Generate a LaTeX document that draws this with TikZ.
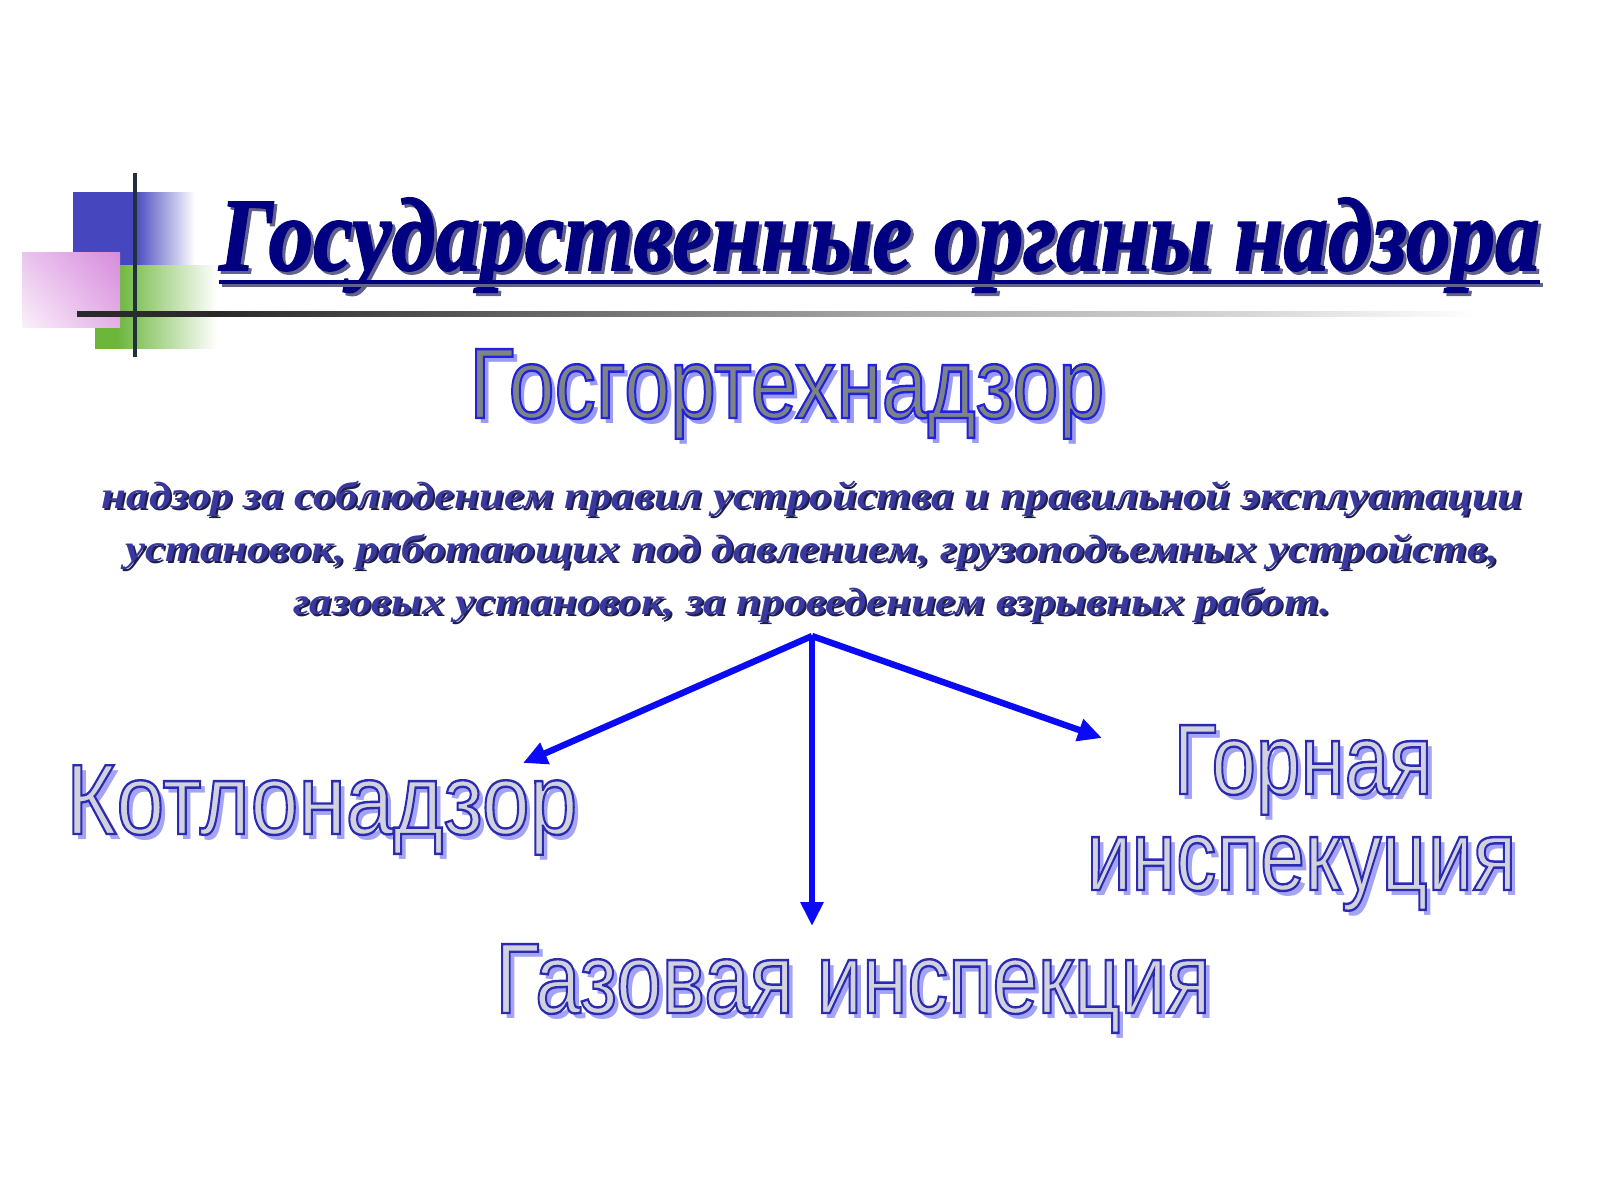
\documentclass[tikz,border=0pt]{standalone}
\usepackage{fontspec}
\setmainfont{Liberation Serif}
\newfontfamily\arialf{Liberation Sans}
\usetikzlibrary{arrows.meta,shadings}
\definecolor{navyt}{HTML}{000080}
\definecolor{navysh}{HTML}{62628A}
\definecolor{bodyc}{HTML}{38389E}
\definecolor{bodysh}{HTML}{1E1E46}
\definecolor{washad}{HTML}{A4A4F2}
\definecolor{gossh}{HTML}{9A9AF0}
\definecolor{gosfill}{HTML}{7E8484}
\definecolor{wafill}{HTML}{D2D2DE}
\definecolor{arrblue}{HTML}{0A0AF5}
\definecolor{decblue}{HTML}{4646BE}
\definecolor{decgreen}{HTML}{6CB63C}
\definecolor{decline}{HTML}{22303C}
\definecolor{pinkUL}{HTML}{EAC4EE}
\definecolor{pinkUR}{HTML}{D68CDC}
\definecolor{pinkLR}{HTML}{E4B0E6}
\definecolor{pinkLL}{HTML}{FAF0FA}
\definecolor{lnA}{HTML}{2A2A2A}
\definecolor{lnB}{HTML}{A8A8A8}
\definecolor{lnC}{HTML}{D8D8D8}
\pgfdeclarehorizontalshading{blueshade}{100bp}{color(0bp)=(decblue); color(25bp)=(decblue); color(50bp)=(decblue); color(75bp)=(white); color(100bp)=(white)}
\pgfdeclarehorizontalshading{greenshade}{100bp}{color(0bp)=(decgreen); color(25bp)=(decgreen); color(34bp)=(decgreen); color(75bp)=(white); color(100bp)=(white)}
\pgfdeclarehorizontalshading{lineshade}{100bp}{color(0bp)=(lnA); color(25bp)=(lnA); color(30bp)=(lnA); color(54bp)=(lnB); color(67bp)=(lnC); color(75bp)=(white); color(100bp)=(white)}
% outlined word-art text: fill colour, stroke rgb, width, text
\newcommand\outl[4]{\resizebox{#3}{\height}{\arialf\fontsize{50}{60}\selectfont\color{#1}\special{pdf:literal direct 2 Tr 1.2 w #2 RG}#4\special{pdf:literal direct 0 Tr}}}
\newcommand\shadwa[3]{\resizebox{#2}{\height}{\arialf\fontsize{50}{60}\selectfont\color{#1}#3}}
\newcommand\titletext{\fontsize{52}{60}\selectfont\bfseries\itshape Государственные органы надзора}
\newcommand\heavy[2]{\special{pdf:literal direct 2 Tr 0.9 w #1 RG}#2\special{pdf:literal direct 0 Tr}}
\begin{document}
\begin{tikzpicture}[x=0.5pt,y=-0.5pt,
  wa/.style={inner sep=0pt, anchor=base west},
  body/.style={inner sep=0pt, anchor=base, font=\fontsize{19}{23}\selectfont\bfseries\itshape},
  arr/.style={draw=arrblue, line width=3.2pt, -{Triangle[length=12pt,width=11pt]}}]
\useasboundingbox (0,0) rectangle (1600,1200);
\fill[white] (0,0) rectangle (1600,1200);
% decoration
\shade[shading=blueshade] (73,192) rectangle (195,267);
\shade[shading=greenshade] (95,265) rectangle (217,348);
\shade[upper left=pinkUL, upper right=pinkUR, lower right=pinkLR, lower left=pinkLL] (22,252) rectangle (120,327);
\shade[shading=lineshade] (77,311.5) rectangle (1480,316.5);
\fill[decline] (133,173) rectangle (137,357);
% title
\node[wa, text=navysh] (titlesh) at (222,273) {\resizebox{660pt}{\height}{\heavy{0.38 0.38 0.54}{\titletext}}};
\node[wa, text=navyt] (title) at (219,270) {\resizebox{660pt}{\height}{\heavy{0 0 0.5}{\titletext}}};
\draw[navysh, line width=2pt] ([xshift=1.5pt,yshift=-7.5pt]title.base west) -- ([xshift=1.5pt,yshift=-7.5pt]title.base east);
\draw[navyt, line width=2pt] ([yshift=-6pt]title.base west) -- ([yshift=-6pt]title.base east);
% Gosgortekhnadzor
\node[wa] (gossh) at (474,423) {\shadwa{gossh}{317.5pt}{Госгортехнадзор}};
\node[wa] (gos) at (469,418) {\outl{gosfill}{0.13 0.13 0.87}{317.5pt}{Госгортехнадзор}};
% body text
\node[body, text=bodysh] (b1s) at (814,510) {\resizebox{710pt}{\height}{надзор за соблюдением правил устройства и правильной эксплуатации}};
\node[body, text=bodyc] (b1) at (812,508) {\resizebox{710pt}{\height}{надзор за соблюдением правил устройства и правильной эксплуатации}};
\node[body, text=bodysh] (b2s) at (814,563) {\resizebox{686.5pt}{\height}{установок, работающих под давлением, грузоподъемных устройств,}};
\node[body, text=bodyc] (b2) at (812,561) {\resizebox{686.5pt}{\height}{установок, работающих под давлением, грузоподъемных устройств,}};
\node[body, text=bodysh] (b3s) at (814,616) {\resizebox{518.5pt}{\height}{газовых установок, за проведением взрывных работ.}};
\node[body, text=bodyc] (b3) at (812,614) {\resizebox{518.5pt}{\height}{газовых установок, за проведением взрывных работ.}};
% word-art targets
\node[wa] (kotsh) at (71,839) {\shadwa{washad}{255.5pt}{Котлонадзор}};
\node[wa] (kot) at (66,834) {\outl{wafill}{0.17 0.17 0.70}{255.5pt}{Котлонадзор}};
\node[wa] (gazsh) at (500,1018) {\shadwa{washad}{357.5pt}{Газовая инспекция}};
\node[wa] (gaz) at (495,1013) {\outl{wafill}{0.17 0.17 0.70}{357.5pt}{Газовая инспекция}};
\node[wa] (gor1sh) at (1178,799) {\shadwa{washad}{129.5pt}{Горная}};
\node[wa] (gor1) at (1173,794) {\outl{wafill}{0.17 0.17 0.70}{129.5pt}{Горная}};
\node[wa] (gor2sh) at (1091,895) {\shadwa{washad}{215pt}{инспекуция}};
\node[wa] (gor2) at (1086,890) {\outl{wafill}{0.17 0.17 0.70}{215pt}{инспекуция}};
% arrows
\coordinate (apex) at (812,636);
\coordinate (tipK) at (523,763);
\coordinate (tipG) at (812,926);
\coordinate (tipR) at (1102,738);
\draw[arr] (apex) -- (tipK);
\draw[arr] (apex) -- (tipG);
\draw[arr] (apex) -- (tipR);
\end{tikzpicture}
\end{document}
